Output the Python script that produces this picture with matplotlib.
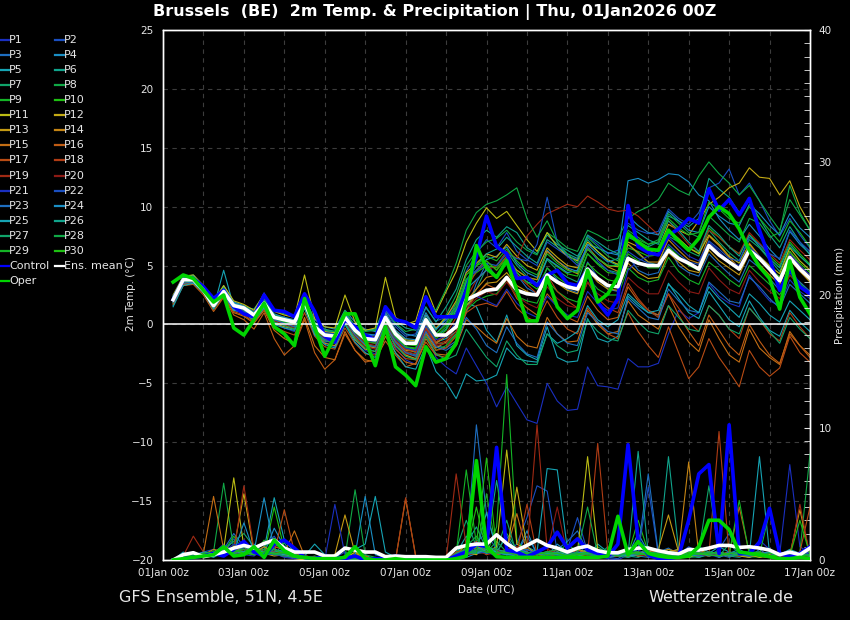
import matplotlib
matplotlib.use("Agg")
import matplotlib.pyplot as plt
from matplotlib.lines import Line2D

# forecast steps (hours after 01Jan 00z), 6-hourly
hours = list(range(6, 385, 6))

tick_hours = [0, 48, 96, 144, 192, 240, 288, 336, 384]
tick_labels = ["01Jan 00z", "03Jan 00z", "05Jan 00z", "07Jan 00z", "09Jan 00z",
               "11Jan 00z", "13Jan 00z", "15Jan 00z", "17Jan 00z"]

# 2m temperature (°C)
control_temp = [2.1, 3.8, 3.9, 3.2, 2.2, 2.9, 1.5, 0.9, 0.65, 2.5, 1.2, 1.1, 0.65, 2.6, 1.1, -1.0,
                -1.5, 0.4, -0.2, -0.9, -1.3, 1.5, 0.4, 0.2, -0.3, 2.35, 0.65, 0.65, 0.65, 2.9, 5.75, 9.2,
                6.6, 6.0, 3.9, 4.0, 3.3, 4.2, 4.6, 3.5, 3.3, 4.7, 1.9, 0.8, 2.2, 10.1, 6.6, 6.1,
                5.9, 7.6, 8.1, 9.0, 8.6, 11.5, 9.7, 10.6, 9.3, 10.7, 8.0, 5.6, 2.9, 4.7, 3.2, 2.6]
oper_temp = [3.6, 4.2, 3.9, 2.9, 1.9, 2.5, -0.3, -0.9, 0.4, 1.8, -0.2, -0.8, -1.8, 2.2, -0.2, -2.7,
             -1.0, 0.9, 0.9, -1.3, -3.5, -0.2, -3.6, -4.3, -5.2, -1.9, -3.2, -2.9, -1.6, 2.1, 6.7, 4.8,
             4.0, 5.4, 2.9, 0.3, 0.3, 4.0, 1.5, 0.5, 1.2, 4.6, 1.9, 2.6, 4.0, 7.7, 7.0, 6.4,
             6.3, 8.0, 7.1, 6.3, 7.3, 9.1, 10.0, 9.4, 8.1, 6.3, 4.9, 3.9, 1.3, 5.4, 2.3, 0.9]
mean_temp = [2.1, 3.8, 3.8, 2.9, 1.6, 2.8, 1.6, 1.4, 0.8, 1.8, 0.6, 0.4, 0.2, 1.9, -0.2, -0.9,
             -1.0, 0.6, -0.5, -1.2, -1.3, 0.6, -0.8, -1.6, -1.6, 0.4, -0.9, -0.9, -0.2, 2.1, 2.5, 2.9,
             3.0, 4.0, 2.9, 2.6, 2.5, 4.2, 3.6, 3.2, 3.0, 4.7, 3.9, 3.3, 3.2, 5.6, 5.2, 5.0,
             5.0, 6.3, 5.6, 5.2, 4.7, 6.7, 5.9, 5.3, 4.7, 6.3, 5.6, 4.7, 3.7, 5.7, 4.7, 3.9]

# P1 ... P30
temp_members = [
    [1.8, 3.5, 3.9, 3.0, 1.9, 2.6, 1.2, 1.0, 0.5, 1.5, 0.2, -0.3, -0.6, 1.4, -0.8, -1.5, -1.9, 0.2, -1.3, -2.2, -2.5, 0.0, -2.0, -3.0, -3.4, -0.5, -2.8, -3.6, -4.2, -2.0, -3.5, -5.0, -7.0, -5.3, -6.7, -8.1, -8.4, -5.0, -6.5, -7.3, -7.2, -3.6, -5.2, -5.3, -5.5, -2.9, -3.6, -3.6, -3.3, -0.8, 1.2, 0.5, 1.0, 3.5, 2.4, 1.8, 1.5, 4.2, 3.0, 2.0, 1.6, 3.8, 2.8, 2.2],
    [2.3, 3.9, 4.0, 3.1, 1.8, 3.0, 1.9, 1.5, 1.1, 2.0, 0.8, 0.5, 0.3, 2.1, 0.1, -0.6, -0.7, 0.9, -0.3, -1.0, -0.9, 1.2, -0.2, -1.0, -0.8, 1.4, 0.3, 0.6, 1.8, 4.5, 6.0, 7.2, 6.5, 7.8, 6.2, 5.5, 5.0, 7.0, 6.4, 5.8, 5.5, 7.5, 6.8, 6.0, 6.3, 8.6, 8.0, 7.7, 7.9, 9.8, 9.0, 8.5, 9.5, 11.6, 12.0, 13.2, 11.0, 12.0, 10.5, 8.8, 7.5, 9.0, 7.6, 6.5],
    [2.0, 3.6, 3.7, 2.8, 1.5, 2.9, 1.7, 1.3, 0.6, 1.9, 0.3, 0.1, -0.2, 1.6, -0.6, -1.3, -1.5, 0.5, -0.9, -1.8, -2.0, 0.2, -1.5, -2.3, -2.6, -0.3, -1.8, -2.0, -1.4, 1.0, 3.5, 5.2, 4.0, 5.5, 4.2, 3.1, 2.6, 4.8, 3.8, 3.0, 2.7, 5.3, 4.0, 3.0, 2.8, 5.8, 4.6, 4.2, 4.4, 6.6, 5.0, 4.4, 4.1, 6.0, 5.1, 4.3, 3.6, 5.5, 4.8, 3.9, 2.9, 4.4, 3.6, 2.8],
    [2.2, 3.7, 3.9, 3.1, 1.8, 3.3, 1.9, 1.6, 1.0, 2.2, 0.9, 0.6, 0.4, 2.3, 0.4, -0.2, -0.4, 1.2, 0.2, -0.4, -0.6, 1.3, 0.0, -0.8, -1.0, 1.0, -0.4, 0.5, 1.5, 3.8, 4.6, 5.5, 5.8, 6.6, 5.2, 4.4, 4.0, 6.3, 5.4, 4.8, 4.5, 6.8, 6.5, 6.1, 5.9, 12.2, 12.4, 12.0, 12.3, 12.8, 12.7, 12.1, 11.0, 10.5, 9.0, 8.0, 7.2, 8.5, 7.5, 6.4, 5.5, 7.9, 6.8, 6.0],
    [1.6, 3.4, 3.6, 2.7, 1.4, 4.6, 1.5, 1.2, 0.7, 1.7, 0.5, 0.2, 0.1, 1.9, -0.3, -1.0, -0.9, 0.4, -0.7, -1.4, -1.2, 0.9, -1.0, -1.9, -2.2, 0.1, -1.5, -1.2, -0.6, 1.8, 1.5, -0.5, -1.5, 0.8, -1.8, -2.6, -3.0, -0.2, -2.8, -3.2, -3.1, 0.5, -1.2, -1.5, -1.0, 2.4, 1.6, 1.0, 0.8, 3.5, 2.2, 1.0, 0.5, 2.8, 1.6, 0.4, -0.2, 2.0, 0.6, -0.5, -1.0, 1.2, 0.2, -0.6],
    [2.4, 4.0, 4.2, 3.2, 1.9, 3.2, 1.8, 1.5, 1.3, 2.5, 1.2, 0.9, 0.7, 2.4, 0.2, -0.4, -0.6, 1.0, -0.1, -0.5, -0.4, 1.6, 0.3, -0.3, -0.5, 1.5, 0.2, 1.5, 3.0, 5.5, 7.2, 8.0, 7.4, 8.3, 7.8, 6.5, 6.0, 7.6, 6.8, 6.3, 5.8, 7.2, 6.2, 5.4, 5.0, 7.4, 7.0, 6.6, 7.0, 9.2, 8.8, 8.3, 9.0, 12.4, 11.5, 10.8, 9.5, 10.5, 9.0, 7.6, 6.5, 8.3, 7.0, 5.9],
    [2.0, 3.8, 3.8, 2.9, 1.7, 2.7, 1.4, 1.2, 0.6, 1.6, 0.4, 0.2, 0.0, 1.7, -0.5, -1.1, -1.3, 0.8, -0.6, -1.3, -1.6, 0.3, -1.2, -2.0, -2.4, -0.2, -1.6, -1.6, -0.8, 1.5, 3.0, 4.8, 5.0, 6.2, 5.0, 4.1, 3.5, 5.5, 4.6, 4.0, 3.6, 6.0, 5.2, 4.6, 4.4, 6.8, 6.0, 5.3, 5.0, 7.5, 7.0, 6.2, 5.8, 8.0, 7.0, 6.1, 5.4, 7.2, 6.5, 5.5, 4.5, 6.6, 5.8, 5.0],
    [2.3, 4.1, 4.0, 3.1, 1.7, 3.1, 1.8, 1.4, 0.9, 2.0, 0.7, 0.5, 0.3, 2.0, -0.1, -0.8, -0.9, 0.8, -0.4, -1.1, -1.2, 0.7, -0.6, -1.4, -1.4, 0.6, -0.5, 0.8, 2.5, 5.0, 6.2, 7.0, 7.3, 8.0, 7.0, 6.3, 5.9, 7.8, 7.2, 6.5, 6.2, 8.0, 7.6, 7.1, 7.3, 9.0, 9.6, 10.0, 10.6, 12.0, 11.4, 11.0, 12.6, 13.8, 12.8, 12.0, 11.0, 11.8, 10.5, 9.2, 8.0, 10.6, 9.3, 8.0],
    [1.9, 3.6, 3.8, 3.0, 1.6, 2.6, 1.3, 1.1, 0.5, 1.6, 0.3, 0.0, -0.3, 1.5, -0.6, -1.2, -1.4, 0.3, -1.0, -1.7, -1.9, -0.1, -1.6, -2.6, -3.0, -0.8, -2.2, -1.8, -0.9, 1.2, 2.0, 2.4, 2.6, 3.8, 2.4, 2.0, 1.8, 3.7, 2.8, 2.2, 1.9, 4.0, 3.0, 2.5, 2.5, 4.8, 4.0, 3.6, 3.8, 5.7, 4.5, 3.8, 3.4, 5.3, 4.6, 3.8, 3.2, 5.0, 4.2, 3.4, 2.5, 4.2, 3.5, 2.6],
    [2.2, 3.9, 3.9, 2.9, 1.6, 2.9, 1.6, 1.4, 0.8, 1.8, 0.6, 0.3, 0.1, 1.8, -0.3, -1.0, -1.1, 0.5, -0.6, -1.3, -1.5, 0.4, -1.0, -1.9, -2.1, -0.1, -1.2, -0.5, 1.0, 3.5, 4.4, 5.0, 4.8, 5.8, 4.6, 4.0, 3.8, 5.6, 4.9, 4.3, 4.1, 6.0, 5.1, 4.4, 4.3, 6.5, 6.2, 5.8, 5.9, 8.0, 7.2, 6.5, 6.1, 8.2, 7.4, 6.6, 6.0, 7.6, 6.8, 5.8, 5.0, 7.0, 6.0, 5.1],
    [2.5, 4.1, 4.2, 3.3, 2.0, 3.3, 2.0, 1.7, 1.2, 2.6, 1.1, 0.8, 0.6, 4.2, 0.5, -0.2, -0.3, 2.5, 0.2, -0.5, -0.3, 4.0, 0.6, 0.0, 0.3, 3.2, 1.0, 2.8, 4.5, 7.0, 8.6, 9.9, 9.0, 9.6, 8.4, 7.2, 6.2, 7.8, 6.6, 5.8, 5.4, 7.0, 6.2, 5.5, 5.1, 7.6, 7.0, 6.4, 6.2, 8.0, 7.3, 6.5, 6.0, 7.6, 6.8, 5.8, 5.2, 6.8, 5.8, 5.0, 4.3, 6.5, 5.4, 4.6],
    [2.1, 3.8, 3.9, 3.0, 1.7, 3.0, 1.7, 1.5, 0.9, 2.0, 0.7, 0.4, 0.2, 2.1, 0.0, -0.6, -0.7, 0.8, -0.3, -1.0, -1.1, 1.0, -0.5, -1.3, -1.4, 0.8, -0.3, 0.6, 2.0, 4.4, 5.2, 6.0, 5.7, 6.8, 5.8, 5.0, 4.6, 6.5, 5.7, 5.0, 4.8, 6.4, 5.6, 5.0, 4.9, 7.0, 6.6, 6.1, 6.4, 8.5, 8.0, 7.6, 8.8, 10.2, 10.8, 11.6, 12.0, 13.3, 12.5, 12.4, 11.0, 12.2, 10.0, 8.5],
    [1.9, 3.5, 3.6, 2.8, 1.5, 2.7, 1.3, 1.1, 0.4, 1.5, 0.1, -0.2, -0.4, 1.4, -0.8, -1.6, -1.8, 0.1, -1.3, -2.1, -2.3, -0.2, -1.8, -2.6, -2.9, -0.7, -2.0, -1.5, -0.6, 1.6, 2.5, 3.5, 3.6, 4.4, 3.3, 2.8, 2.4, 4.2, 3.5, 2.9, 2.6, 4.6, 3.6, 3.0, 2.9, 5.2, 4.4, 3.9, 4.0, 6.1, 5.3, 4.6, 4.4, 6.3, 5.4, 4.8, 4.2, 6.1, 5.1, 4.2, 3.4, 5.5, 4.5, 3.6],
    [2.0, 3.6, 3.7, 2.8, 1.6, 2.8, 1.5, 1.2, 0.6, 1.6, 0.3, 0.0, -0.3, 1.5, -0.7, -1.4, -1.5, 0.2, -1.1, -1.8, -2.0, -0.1, -1.4, -2.2, -2.3, 0.0, -1.6, -1.0, -0.2, 2.0, 3.0, 4.0, 4.2, 5.3, 4.6, 4.0, 3.8, 6.2, 5.4, 4.7, 4.3, 6.6, 5.6, 4.9, 4.5, 6.8, 6.1, 5.3, 5.3, 7.2, 6.3, 5.5, 5.2, 7.5, 6.7, 5.7, 4.8, 6.9, 5.8, 4.7, 4.0, 6.2, 5.0, 4.0],
    [1.8, 3.3, 3.5, 2.7, 1.3, 2.4, 1.0, 0.7, 0.1, 1.2, -0.5, -1.2, -1.6, 0.6, -1.8, -2.8, -3.0, -0.6, -2.2, -3.0, -3.2, -1.0, -2.4, -3.2, -3.4, -1.2, -2.5, -2.6, -1.8, 0.4, -0.2, -1.0, -1.6, 0.5, -1.0, -1.8, -2.0, 0.6, -0.8, -1.5, -1.4, 1.2, 0.0, -0.8, -0.6, 2.0, 0.8, 0.2, -0.4, 1.6, -0.2, -1.5, -2.3, 0.4, -1.2, -2.6, -3.2, -0.4, -2.0, -2.8, -3.4, -0.6, -1.8, -2.6],
    [1.7, 3.3, 3.4, 2.5, 1.1, 2.3, 0.8, 0.4, -0.4, 1.0, -1.2, -2.6, -1.8, 0.4, -2.4, -3.8, -3.0, -0.8, -2.2, -3.2, -3.0, -1.4, -2.6, -3.6, -3.3, -1.5, -2.6, -2.8, -1.4, 1.2, 2.6, 3.4, 3.0, 3.8, 2.2, 1.4, 0.8, 2.6, 1.6, 0.6, 0.2, 2.4, 1.2, 0.4, 0.6, 3.2, 2.0, 1.2, 0.8, 2.6, 0.8, -0.6, -1.8, 0.8, -0.5, -1.8, -2.6, 0.0, -1.4, -2.6, -3.3, -0.8, -1.8, -2.8],
    [1.9, 3.4, 3.6, 2.7, 1.4, 2.5, 1.1, 0.8, 0.2, 1.3, -0.2, -0.6, -0.9, 1.0, -1.0, -1.9, -2.1, -0.3, -1.6, -2.5, -2.6, -0.6, -2.1, -2.9, -3.0, -0.9, -2.2, -2.0, -1.0, 1.0, 1.6, 1.8, 1.5, 2.8, 1.4, 0.6, 0.2, 2.0, 0.6, -0.4, -0.8, 1.4, 0.2, -0.8, -1.2, 1.0, -0.6, -1.8, -2.8, -0.2, -2.4, -4.6, -3.6, -1.2, -2.8, -4.0, -5.3, -2.2, -3.6, -4.4, -3.7, -1.0, -2.4, -3.2],
    [2.1, 3.7, 3.8, 2.9, 1.7, 2.9, 1.6, 1.3, 0.8, 1.9, 0.5, 0.2, -0.1, 1.7, -0.4, -1.1, -1.2, 0.4, -0.8, -1.5, -1.6, 0.3, -1.2, -2.1, -2.3, -0.3, -1.5, -0.8, 0.6, 3.0, 4.5, 5.4, 4.6, 5.8, 4.2, 3.4, 2.6, 4.2, 2.8, 2.0, 1.4, 3.6, 2.2, 1.4, 1.0, 3.5, 2.2, 1.2, 0.6, 2.6, 1.4, 0.2, -0.6, 1.6, 0.8, -0.4, -1.2, 1.4, 0.4, -0.8, -1.4, 1.0, -0.2, -1.2],
    [2.2, 3.8, 3.8, 2.9, 1.6, 2.8, 1.5, 1.2, 0.6, 1.8, 0.4, 0.1, -0.1, 1.7, -0.5, -1.2, -1.3, 0.4, -0.8, -1.6, -1.8, 0.1, -1.4, -2.3, -2.5, -0.4, -1.7, -1.4, -0.2, 2.2, 3.8, 4.6, 5.0, 6.2, 5.6, 7.5, 8.5, 9.4, 9.8, 10.2, 10.0, 10.9, 10.4, 9.8, 9.6, 9.7, 9.2, 8.4, 7.6, 8.8, 7.8, 6.8, 6.2, 8.0, 7.4, 6.6, 6.0, 7.8, 6.9, 6.0, 5.2, 7.2, 6.3, 5.5],
    [2.0, 3.6, 3.7, 2.8, 1.5, 2.7, 1.4, 1.1, 0.5, 1.7, 0.3, 0.0, -0.3, 1.6, -0.6, -1.3, -1.5, 0.2, -1.0, -1.9, -2.1, -0.3, -1.6, -2.5, -2.7, -0.6, -1.8, -1.6, -0.6, 1.4, 2.2, 2.8, 2.5, 3.6, 2.4, 1.8, 1.4, 3.2, 2.2, 1.6, 1.4, 3.6, 2.6, 2.0, 1.8, 4.0, 3.2, 2.6, 2.6, 4.6, 3.6, 2.8, 2.6, 4.8, 3.8, 3.0, 2.6, 4.6, 3.6, 2.8, 2.2, 4.2, 3.2, 2.4],
    [2.1, 3.7, 3.8, 2.9, 1.6, 2.8, 1.6, 1.3, 0.7, 2.7, 0.5, 0.2, 0.0, 1.8, -0.3, -1.0, -1.2, 0.5, -0.7, -1.4, -1.5, 0.4, -1.2, -2.0, -2.2, -0.1, -1.3, -1.0, 0.2, 2.0, 2.4, 2.0, 1.6, 3.0, 1.8, 1.0, 0.6, 2.4, 1.5, 0.8, 0.6, 2.8, 1.8, 1.2, 1.4, 4.6, 5.4, 5.8, 6.3, 7.4, 6.6, 5.8, 5.4, 7.0, 6.2, 5.3, 5.0, 6.6, 5.8, 4.8, 4.0, 6.0, 5.0, 4.2],
    [2.3, 3.9, 4.0, 3.0, 1.8, 3.0, 1.7, 1.5, 1.0, 2.1, 0.7, 0.4, 0.2, 2.0, 0.0, -0.7, -0.8, 0.9, -0.4, -1.1, -1.2, 0.8, -0.7, -1.5, -1.6, 0.5, -0.8, 0.2, 1.5, 3.8, 4.5, 5.2, 5.0, 6.0, 5.6, 5.4, 6.8, 10.8, 7.0, 5.8, 5.0, 6.6, 5.4, 4.6, 4.2, 6.2, 5.6, 5.2, 5.0, 6.8, 6.0, 5.3, 5.1, 7.1, 6.4, 5.6, 5.4, 7.4, 6.8, 6.0, 5.6, 8.0, 7.0, 6.2],
    [1.9, 3.5, 3.6, 2.8, 1.5, 2.7, 1.4, 1.2, 0.6, 1.7, 0.4, 0.1, -0.2, 1.6, -0.6, -1.3, -1.4, 0.4, -0.9, -1.7, -1.9, 0.0, -1.5, -2.4, -2.7, -0.6, -1.9, -2.2, -1.6, 0.6, -0.4, -1.8, -2.4, -0.2, -1.6, -2.5, -2.8, 0.2, -0.8, -1.6, -1.8, 1.0, 0.2, -0.6, -0.8, 2.2, 1.4, 0.6, 0.4, 3.0, 2.0, 1.2, 1.0, 3.6, 2.8, 2.0, 1.8, 4.0, 3.2, 2.2, 1.4, 3.4, 2.6, 1.8],
    [2.4, 4.0, 4.1, 3.1, 1.8, 3.1, 1.8, 1.5, 1.0, 2.2, 0.8, 0.6, 0.3, 2.2, 0.1, -0.5, -0.6, 1.0, -0.2, -0.8, -0.9, 1.0, -0.5, -1.2, -1.3, 0.8, -0.4, 0.4, 1.2, 3.0, 3.8, 4.6, 4.0, 5.6, 4.4, 3.6, 3.4, 5.6, 5.0, 4.4, 4.6, 6.8, 6.0, 5.3, 5.6, 9.2, 8.4, 7.8, 7.6, 9.6, 8.8, 8.0, 7.8, 10.0, 9.2, 8.6, 8.4, 10.2, 9.4, 8.4, 7.6, 9.4, 8.2, 7.4],
    [1.5, 3.3, 3.5, 2.7, 1.3, 2.6, 1.2, 1.0, 0.3, 1.4, 0.0, -0.3, -0.5, 1.4, -0.9, -1.7, -2.0, 0.0, -1.5, -2.4, -2.8, -0.6, -2.4, -3.6, -3.8, -1.8, -4.0, -4.9, -6.3, -4.2, -4.8, -4.7, -4.3, -2.0, -2.9, -3.1, -3.2, -0.8, -1.6, -1.2, -0.6, 1.6, 0.4, -0.2, 0.4, 2.6, 1.8, 1.0, 1.2, 3.4, 2.6, 1.6, 1.0, 3.2, 2.2, 1.4, 0.6, 2.6, 1.8, 0.8, 0.2, 2.0, 1.2, 0.4],
    [2.2, 3.8, 3.9, 3.0, 1.7, 2.9, 1.6, 1.4, 0.8, 1.9, 0.6, 0.3, 0.1, 1.8, -0.2, -0.8, -1.0, 0.6, -0.5, -1.2, -1.3, 0.5, -0.8, -1.6, -1.8, 0.2, -1.0, -0.4, 1.2, 3.6, 5.0, 6.0, 6.4, 7.4, 6.6, 5.8, 5.2, 7.2, 6.6, 6.0, 5.6, 7.6, 7.0, 6.4, 6.0, 8.4, 7.8, 7.2, 6.8, 8.8, 8.0, 7.0, 6.2, 8.4, 7.6, 6.6, 5.8, 7.6, 6.6, 5.6, 4.8, 6.8, 5.8, 5.0],
    [1.9, 3.6, 3.7, 2.8, 1.5, 2.7, 1.4, 1.1, 0.5, 1.6, 0.2, -0.1, -0.4, 1.5, -0.7, -1.4, -1.6, 0.1, -1.2, -2.0, -2.3, -0.3, -1.8, -2.7, -3.0, -1.0, -2.5, -3.0, -2.6, -0.4, -1.6, -2.8, -3.6, -1.4, -2.6, -3.4, -3.4, -0.8, -1.8, -2.4, -2.2, 0.4, -0.6, -1.2, -1.4, 1.2, 0.2, -0.6, -0.8, 1.6, 0.6, -0.4, -0.6, 1.6, 0.8, -0.4, -0.8, 1.4, 0.4, -0.6, -1.6, 0.6, -0.4, -1.2],
    [2.3, 4.0, 4.0, 3.1, 1.8, 3.1, 1.7, 1.5, 1.0, 2.2, 0.8, 0.5, 0.3, 2.2, 0.0, -0.5, -0.6, 1.2, -0.2, -0.6, -0.5, 1.4, 0.1, -0.6, -0.4, 2.0, 1.2, 3.0, 5.2, 8.0, 9.5, 10.2, 10.5, 11.0, 11.6, 9.0, 7.4, 8.8, 7.0, 6.0, 5.2, 7.4, 6.6, 5.8, 5.4, 8.0, 7.4, 6.8, 7.2, 9.4, 8.6, 7.8, 7.4, 9.2, 8.4, 7.6, 7.0, 9.0, 8.6, 7.4, 7.8, 11.8, 9.5, 8.0],
    [2.0, 3.7, 3.8, 2.9, 1.6, 2.8, 1.5, 1.3, 0.7, 1.8, 0.5, 0.2, 0.0, 1.7, -0.4, -1.1, -1.2, 0.5, -0.7, -1.4, -1.6, 0.3, -1.1, -1.9, -2.0, 0.2, -1.0, -0.2, 1.4, 3.8, 5.0, 5.8, 5.4, 6.4, 5.4, 4.6, 4.2, 6.0, 5.2, 4.6, 4.4, 6.4, 5.6, 5.0, 5.0, 7.6, 7.2, 6.8, 7.0, 9.0, 8.2, 7.6, 7.8, 10.4, 9.8, 9.0, 8.6, 10.0, 9.0, 8.0, 7.0, 8.8, 7.8, 6.6],
    [2.1, 3.8, 3.9, 3.0, 1.7, 3.0, 1.6, 1.4, 0.8, 1.9, 0.6, 0.3, 0.1, 1.9, -0.2, -0.9, -1.0, 0.7, -0.5, -1.2, -1.4, 0.6, -0.9, -1.7, -1.8, 0.4, -0.8, 0.0, 1.8, 4.2, 5.0, 5.4, 4.6, 5.6, 4.4, 3.6, 3.0, 4.8, 4.0, 3.4, 3.2, 5.2, 4.4, 3.8, 3.6, 6.0, 5.4, 4.8, 4.8, 6.6, 5.8, 5.0, 4.6, 6.8, 6.0, 5.2, 4.8, 6.4, 5.6, 4.8, 4.0, 6.2, 5.2, 4.4],
]

# 6-hourly precipitation (mm)
control_prec = [0, 0.1, 0.2, 0.3, 0.5, 0.3, 0.8, 1.4, 0.6, 0.3, 1.2, 1.5, 0.9, 0.2, 0.1, 0.3,
                0.2, 0.1, 0.3, 0.0, 0.1, 0.1, 0.3, 0.2, 0.2, 0.1, 0.1, 0.0, 0.3, 0.6, 1.2, 1.0,
                8.5, 0.75, 0.6, 0.25, 0.6, 1.0, 2.1, 0.9, 1.6, 0.75, 0.5, 0.25, 1.2, 8.7, 1.5, 0.4,
                0.1, 0.1, 0.25, 3.0, 6.5, 7.2, 0.5, 10.2, 0.5, 0.5, 1.3, 3.9, 0.5, 0.25, 0.5, 1.0]
oper_prec = [0, 0.1, 0.2, 0.3, 0.4, 1.0, 0.3, 0.4, 1.0, 0.2, 1.5, 0.7, 0.3, 0.2, 0.1, 0.1,
             0.1, 0.2, 1.0, 0.1, 0.0, 0.0, 0.1, 0.0, 0.0, 0.0, 0.0, 0.0, 0.1, 0.3, 7.5, 1.0,
             0.25, 0.2, 0.2, 0.2, 0.2, 0.2, 0.2, 0.2, 0.2, 0.2, 0.2, 0.3, 3.3, 0.4, 1.4, 0.5,
             0.3, 0.2, 0.2, 0.3, 1.0, 3.0, 3.0, 2.3, 0.6, 0.5, 0.4, 0.25, 0.1, 0.1, 0.2, 0.1]
mean_prec = [0, 0.4, 0.55, 0.25, 0.4, 0.6, 0.9, 1.1, 0.9, 1.25, 1.5, 0.9, 0.6, 0.6, 0.6, 0.3,
             0.3, 0.9, 0.75, 0.6, 0.6, 0.25, 0.3, 0.25, 0.25, 0.25, 0.2, 0.2, 0.9, 1.1, 1.2, 1.2,
             1.9, 1.25, 0.75, 1.1, 1.5, 1.1, 0.9, 0.6, 0.9, 1.05, 0.7, 0.55, 0.55, 0.8, 0.9, 0.9,
             0.7, 0.55, 0.45, 0.8, 0.75, 0.9, 1.1, 1.1, 0.95, 1.0, 0.9, 0.75, 0.4, 0.6, 0.4, 0.9]

# P1 ... P30
prec_members = [
    [0, 0.1, 0.3, 0.2, 0.5, 1.2, 0.6, 0.4, 0.3, 0.8, 0.5, 0.2, 0.1, 0, 0.2, 0, 0, 0.1, 0.3, 0.1, 0, 0, 0, 0.2, 0, 0, 0, 0, 0.2, 0.5, 1.0, 0.6, 0.3, 0.8, 0.4, 0.2, 0.6, 0.3, 0.1, 0, 0.2, 0.5, 0.3, 0.1, 0, 0.4, 0.8, 0.2, 0.1, 0.3, 0.5, 0.2, 0.8, 0.4, 0.2, 0.5, 0.3, 0.6, 1.5, 0.8, 0.4, 7.2, 1.0, 0.5],
    [0, 0.2, 0.4, 0.6, 0.8, 0.5, 1.6, 0.8, 0.4, 1.0, 1.8, 0.6, 0.2, 0.1, 0, 0.1, 0.2, 0.6, 0.2, 0, 0, 0.1, 0, 0, 0, 0, 0, 0.1, 0.3, 0.8, 1.4, 2.0, 0.8, 0.5, 1.2, 3.2, 5.6, 5.2, 0.6, 0.3, 0.4, 1.2, 0.5, 0.2, 0.1, 0.6, 1.4, 0.8, 0.5, 0.2, 0.4, 1.0, 0.6, 0.3, 0.8, 2.0, 0.4, 0.2, 0.5, 0.3, 0.2, 0.4, 0.2, 0.6],
    [0, 0.3, 0.2, 0.5, 0.3, 0.8, 2.0, 1.0, 0.6, 0.4, 1.2, 0.8, 0.3, 0.2, 0.1, 0, 0.1, 0.3, 0.2, 0, 0.1, 0, 0, 0.3, 0.1, 0, 0, 0, 0.2, 0.6, 10.2, 3.5, 0.8, 0.4, 0.6, 1.8, 0.5, 0.3, 0.8, 1.4, 2.2, 0.6, 0.3, 0.2, 0.4, 0.8, 0.3, 0.2, 0.6, 0.9, 0.4, 0.2, 0.3, 0.6, 0.4, 0.2, 0.5, 0.2, 0.8, 0.3, 0.2, 0.6, 0.3, 0.4],
    [0, 0.4, 0.6, 0.3, 0.5, 0.4, 1.0, 0.6, 1.2, 0.5, 2.4, 1.0, 0.4, 0.2, 0, 0, 0.2, 0.1, 0, 0.4, 0, 0, 0.1, 0, 0, 0, 0, 0, 0, 0.2, 0.5, 1.0, 0.6, 1.8, 0.5, 2.2, 0.4, 0.3, 1.2, 0.6, 0.8, 0.3, 0.5, 0.2, 0.3, 0.4, 2.0, 0.6, 0.2, 0.5, 0.3, 0.4, 1.0, 0.6, 0.2, 0.5, 0.8, 0.4, 0.3, 0.2, 0.3, 0.2, 0.4, 0.3],
    [0, 0.6, 0.3, 0.4, 0.2, 0.6, 0.8, 1.2, 0.5, 0.8, 4.7, 1.5, 0.6, 0.3, 1.2, 0.4, 0.3, 0.2, 0.8, 1.2, 4.8, 0.6, 0.2, 0.1, 0, 0, 0, 0, 0.5, 1.8, 0.6, 3.6, 0.8, 0.4, 0.3, 1.0, 0.6, 6.9, 6.8, 0.8, 0.4, 0.3, 1.2, 0.6, 0.5, 0.2, 0.4, 1.0, 0.3, 0.6, 0.8, 0.4, 0.2, 0.5, 1.0, 0.6, 0.4, 0.3, 0.6, 0.2, 0.4, 0.8, 0.5, 0.3],
    [0, 0.2, 0.5, 0.3, 0.4, 1.0, 0.6, 0.8, 0.5, 0.6, 0.4, 1.3, 0.2, 0.1, 0, 0.2, 0, 0.3, 0.1, 0, 0.2, 0, 0, 0, 0, 0, 0, 0, 0.6, 1.2, 2.5, 0.8, 6.0, 1.2, 0.5, 0.3, 0.4, 0.6, 0.2, 0.3, 0.5, 0.8, 0.4, 0.2, 0.6, 0.3, 0.2, 0.5, 0.4, 7.8, 0.8, 0.3, 0.2, 0.4, 0.6, 0.3, 0.2, 0.5, 0.3, 0.2, 0.1, 0.3, 0.2, 0.1],
    [0, 0.1, 0.2, 0.4, 0.6, 0.8, 1.4, 2.0, 1.0, 0.5, 0.8, 0.4, 0.2, 0, 0.1, 0, 0.3, 0.1, 0.4, 0, 0, 0.2, 0, 0, 0, 0, 0, 0.1, 0.8, 3.0, 1.0, 0.6, 0.5, 2.0, 0.8, 0.3, 0.2, 0.6, 0.4, 0.3, 0.8, 0.5, 0.3, 1.0, 0.3, 0.2, 0.6, 0.4, 0.8, 0.3, 0.5, 0.2, 0.6, 0.4, 0.3, 1.2, 0.5, 0.6, 0.6, 0.3, 0.2, 0.5, 0.4, 0.2],
    [0, 0.3, 0.4, 0.5, 0.6, 5.8, 0.8, 1.2, 0.6, 1.0, 0.5, 0.3, 0.2, 0.1, 0.3, 0, 0, 0.2, 5.3, 0.4, 0.2, 0.1, 0, 0, 0, 0, 0, 0, 0.3, 1.0, 1.8, 0.6, 1.4, 0.6, 0.8, 0.4, 0.6, 0.4, 0.3, 0.8, 0.4, 0.6, 1.0, 0.5, 0.3, 0.8, 0.6, 0.4, 0.5, 0.3, 0.6, 0.8, 0.4, 0.5, 0.3, 0.6, 0.4, 0.2, 0.3, 0.5, 0.3, 0.2, 0.6, 8.0],
    [0, 0.2, 0.3, 0.2, 0.5, 0.6, 1.8, 0.6, 0.4, 1.5, 0.8, 0.6, 0.3, 0.1, 0, 0, 0.2, 0, 0.4, 0.2, 0.1, 0, 0, 0, 0, 0, 0, 0, 0.5, 6.8, 1.2, 0.4, 2.5, 14.0, 1.5, 0.5, 0.3, 0.4, 0.6, 1.2, 0.6, 0.3, 0.5, 0.4, 0.3, 0.6, 0.4, 0.3, 0.5, 0.8, 0.4, 0.2, 0.3, 0.6, 0.5, 0.4, 0.6, 0.3, 0.2, 0.4, 0.2, 0.5, 0.3, 0.2],
    [0, 0.3, 0.2, 0.6, 0.4, 0.8, 0.6, 1.0, 0.8, 0.4, 4.0, 0.8, 0.4, 0.2, 0.1, 0, 0.3, 0.2, 0.6, 0.1, 0, 0, 0.1, 0, 0, 0, 0, 0, 0.2, 0.4, 1.2, 7.7, 0.8, 0.5, 0.6, 0.4, 0.3, 0.5, 0.8, 0.4, 0.6, 0.3, 0.4, 0.8, 0.5, 0.4, 3.0, 0.6, 0.3, 0.5, 0.4, 0.6, 0.8, 0.5, 0.3, 0.4, 0.6, 0.4, 0.3, 0.2, 0.3, 0.2, 0.4, 0.3],
    [0, 0.1, 0.2, 0.3, 0.6, 0.8, 6.2, 1.0, 0.5, 0.6, 0.4, 0.3, 0.2, 0, 0, 0, 0, 0.3, 0.2, 0, 0, 0, 0, 0, 0, 0, 0, 0, 0.4, 1.2, 0.8, 0.6, 1.0, 8.3, 1.2, 0.8, 0.5, 0.6, 0.4, 0.3, 0.6, 7.8, 0.8, 0.4, 0.3, 0.4, 0.5, 0.3, 0.6, 0.4, 0.3, 0.2, 0.5, 0.3, 0.6, 0.4, 0.3, 0.4, 0.2, 0.3, 0.2, 0.3, 0.4, 0.2],
    [0, 0.2, 0.4, 0.3, 0.5, 0.6, 0.8, 5.0, 0.6, 0.8, 0.5, 0.4, 0.1, 0, 0.2, 0, 0, 0.1, 0.6, 0.3, 0, 0.2, 0, 0, 0, 0, 0, 0, 0.2, 0.6, 0.4, 1.0, 0.6, 0.5, 5.5, 1.0, 0.4, 0.6, 0.3, 0.5, 0.8, 0.6, 0.4, 0.3, 0.5, 0.3, 0.6, 0.4, 0.3, 0.6, 0.8, 0.4, 0.5, 0.3, 0.6, 0.4, 0.3, 0.2, 0.5, 0.4, 0.3, 0.5, 0.2, 0.3],
    [0, 0.4, 0.3, 0.5, 0.6, 1.0, 0.8, 0.4, 0.6, 0.5, 0.3, 0.4, 0.2, 0.1, 0, 0.2, 0.4, 3.4, 0.5, 0.2, 0, 0, 0.1, 0, 0, 0, 0, 0, 0.3, 0.8, 0.5, 1.2, 0.4, 0.6, 0.8, 0.5, 0.6, 0.3, 0.4, 0.8, 0.5, 0.4, 0.6, 0.3, 0.4, 0.5, 0.3, 0.6, 0.8, 3.4, 0.6, 0.4, 0.3, 0.5, 0.4, 0.6, 0.4, 0.3, 0.5, 0.2, 0.3, 0.4, 3.8, 0.3],
    [0, 0.3, 0.5, 0.4, 0.8, 0.6, 1.0, 0.8, 0.5, 1.0, 0.6, 0.4, 0.3, 0.2, 0.1, 0, 0, 0.1, 0.3, 0.2, 0, 0, 0, 4.6, 0.3, 0, 0, 0, 0.2, 0.5, 0.6, 1.0, 0.4, 0.8, 0.6, 0.4, 0.3, 0.5, 0.3, 0.6, 0.4, 0.3, 0.6, 0.4, 0.5, 0.6, 0.3, 0.4, 0.6, 0.8, 0.6, 7.4, 0.4, 0.5, 0.3, 0.6, 0.5, 0.4, 0.3, 0.5, 0.3, 0.2, 0.4, 0.3],
    [0, 0.2, 0.3, 0.5, 4.8, 0.8, 0.6, 1.0, 0.4, 0.6, 0.8, 0.5, 2.2, 0.3, 0.2, 0, 0.3, 0.2, 0.4, 0.1, 0, 0, 0, 0, 0, 0, 0, 0, 0.4, 0.6, 1.0, 0.8, 0.5, 0.8, 3.5, 0.6, 0.4, 0.5, 0.6, 0.3, 0.8, 0.4, 0.3, 0.5, 0.6, 0.4, 0.5, 0.3, 0.4, 0.6, 0.3, 0.5, 0.8, 0.4, 0.6, 0.3, 0.5, 0.4, 0.3, 0.2, 0.3, 0.5, 0.2, 0.3],
    [0, 0.1, 0.3, 0.4, 0.6, 0.5, 0.8, 0.6, 0.4, 0.6, 1.0, 0.8, 0.5, 0.3, 0.2, 0.1, 0, 0.2, 0.1, 0.3, 0, 0, 0, 0, 0, 0, 0, 0, 0.2, 0.4, 0.5, 0.6, 0.8, 0.5, 0.4, 0.6, 0.3, 0.5, 0.8, 0.4, 0.6, 0.3, 0.5, 0.4, 0.3, 0.6, 0.4, 0.8, 0.5, 0.3, 0.4, 0.6, 0.4, 0.3, 0.5, 0.4, 4.0, 0.5, 0.3, 0.2, 0.4, 0.3, 0.5, 0.3],
    [0, 0.3, 0.4, 0.3, 0.5, 0.8, 0.6, 0.5, 0.8, 0.6, 0.5, 3.8, 0.6, 0.3, 0.2, 0, 0.2, 0.1, 0, 0.2, 0, 0, 0, 0, 0, 0, 0, 0, 0.6, 0.8, 1.4, 0.6, 0.4, 0.6, 0.8, 0.5, 0.6, 0.4, 0.3, 0.8, 0.5, 0.6, 0.4, 0.3, 0.4, 0.3, 0.6, 0.5, 0.3, 0.5, 0.4, 0.8, 0.5, 0.6, 0.4, 0.3, 0.4, 0.3, 0.6, 0.5, 0.3, 0.4, 0.6, 4.0],
    [0, 0.2, 0.5, 0.4, 0.6, 0.4, 0.8, 0.6, 0.5, 0.8, 0.6, 0.4, 0.3, 0.2, 0.1, 0, 0, 0.2, 0.3, 0.1, 0, 0.1, 0, 4.7, 0.2, 0, 0, 0, 0.3, 0.5, 0.8, 0.4, 0.6, 0.8, 0.5, 4.2, 0.4, 0.6, 0.5, 0.3, 0.6, 0.4, 8.8, 0.6, 0.5, 0.3, 0.4, 0.6, 0.4, 0.5, 0.6, 0.3, 0.5, 0.4, 9.7, 0.4, 0.6, 0.3, 0.4, 0.5, 0.3, 0.4, 0.2, 0.3],
    [0, 0.3, 1.8, 0.6, 0.4, 0.5, 0.6, 5.6, 0.8, 0.4, 0.6, 0.5, 0.3, 0.2, 0, 0.1, 0, 0.2, 0.1, 0, 0, 0, 0, 0, 0, 0, 0, 0, 6.5, 1.0, 0.8, 0.6, 0.5, 0.8, 1.0, 0.6, 10.2, 0.8, 0.5, 0.4, 0.6, 0.5, 0.4, 0.6, 0.3, 0.5, 0.4, 0.3, 0.5, 0.4, 0.6, 0.3, 0.4, 0.5, 0.3, 0.6, 0.3, 0.5, 0.4, 0.2, 0.3, 0.2, 4.2, 0.3],
    [0, 0.1, 0.3, 0.2, 0.5, 0.6, 0.4, 0.8, 0.5, 0.4, 0.6, 0.3, 0.2, 0.1, 0, 0, 0.1, 0, 0.2, 0, 0, 0, 0, 0, 0, 0, 0, 0, 0.2, 0.4, 0.6, 0.5, 0.8, 0.4, 0.6, 0.5, 0.3, 0.6, 4.0, 0.4, 0.5, 0.3, 0.6, 0.4, 0.3, 0.5, 0.4, 0.3, 0.6, 0.4, 0.3, 0.5, 0.4, 0.3, 0.5, 0.4, 0.3, 0.6, 0.4, 0.3, 0.2, 0.3, 0.4, 0.2],
    [0, 0.2, 0.3, 0.5, 0.4, 0.6, 1.2, 0.8, 0.5, 0.6, 0.4, 0.3, 0.1, 0.2, 0, 0, 4.2, 0.4, 0.2, 0.1, 0, 0, 0, 0, 0, 0, 0, 0, 0.3, 0.6, 0.8, 0.5, 0.6, 0.4, 0.5, 0.8, 0.4, 0.6, 0.3, 0.5, 0.6, 0.4, 0.5, 0.3, 0.4, 0.6, 0.5, 0.4, 0.3, 0.5, 0.4, 0.6, 0.5, 0.4, 0.3, 0.5, 0.4, 0.6, 0.3, 0.5, 0.3, 0.4, 0.2, 0.5],
    [0, 0.3, 0.4, 0.3, 0.6, 0.5, 0.8, 1.0, 0.6, 0.5, 0.4, 0.6, 0.2, 0.1, 0, 0, 0, 0.2, 0.1, 0, 0, 0, 0, 0, 0, 0, 0, 0, 0.4, 0.8, 0.5, 0.6, 0.5, 0.6, 0.8, 0.4, 0.6, 0.3, 0.5, 0.8, 3.2, 0.6, 0.5, 0.3, 0.6, 0.4, 0.5, 5.5, 0.4, 0.6, 0.5, 0.4, 0.3, 0.5, 0.6, 0.4, 0.5, 0.3, 0.4, 0.6, 0.4, 0.3, 0.5, 0.6],
    [0, 0.2, 0.5, 0.4, 0.3, 0.6, 0.8, 0.6, 0.5, 0.4, 0.8, 0.6, 0.3, 0.2, 0.1, 0, 0.2, 0.1, 0, 0, 0, 0, 0, 0, 0, 0, 0, 0, 0.3, 0.4, 0.6, 0.8, 0.5, 0.4, 0.6, 0.8, 0.5, 0.6, 0.4, 0.3, 0.6, 0.4, 0.3, 0.5, 0.4, 0.6, 0.8, 6.5, 0.5, 0.4, 0.6, 0.3, 0.5, 0.4, 0.3, 0.6, 0.4, 0.5, 0.6, 0.3, 0.5, 0.3, 0.4, 0.3],
    [0, 0.4, 0.3, 0.6, 0.5, 0.8, 0.6, 2.8, 0.6, 4.7, 0.8, 0.5, 0.4, 0.2, 0.1, 0, 0.3, 0.2, 0.4, 4.8, 0.4, 0.2, 0, 0, 0, 0, 0, 0, 0.2, 0.5, 0.8, 1.0, 0.6, 0.5, 0.8, 0.6, 0.4, 0.6, 0.5, 0.3, 0.5, 0.6, 0.4, 0.3, 0.6, 0.4, 0.5, 0.6, 0.4, 0.6, 0.5, 0.3, 0.4, 0.5, 0.6, 0.3, 0.4, 0.3, 0.5, 0.6, 0.3, 0.5, 0.4, 0.3],
    [0, 0.5, 0.4, 0.3, 0.6, 0.8, 0.5, 0.6, 0.8, 0.6, 0.5, 0.4, 0.3, 0.2, 0.1, 0, 0.1, 0, 0.2, 0, 0, 0, 0, 0, 0, 0, 0, 0, 0.3, 0.6, 0.5, 0.8, 0.6, 0.4, 0.5, 0.6, 0.4, 0.5, 0.6, 0.4, 0.3, 0.5, 0.6, 0.4, 0.5, 0.3, 0.4, 0.6, 0.5, 0.4, 0.3, 0.6, 0.4, 0.6, 0.5, 0.3, 0.5, 0.4, 7.8, 0.5, 0.4, 0.3, 0.5, 0.4],
    [0, 0.2, 0.4, 0.5, 0.6, 0.5, 0.8, 0.6, 0.4, 0.5, 0.6, 0.8, 0.3, 0.2, 0, 0.1, 0, 0.1, 0.3, 0.2, 0, 0, 0, 0, 0, 0, 0, 0, 0.4, 0.6, 1.0, 0.5, 0.8, 0.6, 0.5, 0.4, 0.6, 0.5, 0.4, 0.3, 0.5, 0.6, 0.4, 0.5, 0.3, 0.4, 8.2, 0.5, 0.4, 0.5, 0.3, 0.6, 0.5, 0.3, 0.4, 0.5, 0.6, 0.4, 0.5, 0.3, 0.4, 0.6, 0.3, 0.4],
    [0, 0.3, 0.5, 0.4, 0.6, 0.8, 0.5, 1.0, 0.6, 0.4, 0.5, 0.3, 0.2, 0.1, 0, 0, 0.1, 0.2, 0, 0.1, 0, 0, 0, 0, 0, 0, 0, 0, 0.5, 0.8, 0.6, 1.0, 0.8, 3.0, 0.4, 0.5, 0.6, 0.4, 0.5, 0.6, 0.4, 0.5, 0.3, 0.6, 0.5, 0.4, 0.6, 0.3, 0.4, 0.6, 0.5, 0.4, 0.6, 5.6, 0.5, 0.3, 0.4, 0.5, 0.3, 0.6, 0.4, 0.3, 0.5, 0.3],
    [0, 0.2, 0.3, 0.5, 0.4, 0.6, 0.8, 0.5, 0.6, 0.8, 0.4, 0.5, 0.3, 0.2, 0.1, 0, 0.2, 0, 0.1, 0, 0, 0, 0, 0, 0, 0, 0, 0, 0.3, 0.5, 0.8, 0.6, 0.5, 0.8, 0.6, 0.4, 0.5, 0.6, 0.8, 0.4, 0.6, 4.0, 0.4, 0.6, 0.5, 0.6, 0.4, 0.5, 0.6, 0.4, 0.5, 0.3, 0.5, 0.6, 0.4, 0.5, 0.6, 0.5, 0.4, 3.6, 0.5, 0.4, 0.3, 0.4],
    [0, 0.4, 0.3, 0.5, 0.6, 0.5, 0.6, 0.8, 0.5, 0.6, 0.8, 0.5, 0.3, 0.1, 0, 0, 0.1, 0.2, 0.1, 0, 0, 0, 0, 0, 0, 0, 0, 0, 0.4, 0.6, 0.5, 5.0, 0.6, 0.5, 0.8, 0.5, 0.4, 0.6, 0.5, 0.3, 0.5, 0.4, 0.6, 0.5, 0.3, 0.6, 0.5, 0.4, 0.5, 0.3, 0.6, 0.5, 0.4, 0.5, 0.6, 0.4, 4.5, 0.4, 0.3, 0.5, 0.4, 0.5, 0.3, 0.4],
    [0, 0.3, 0.4, 0.3, 0.5, 0.6, 0.8, 0.5, 0.4, 0.6, 0.5, 0.6, 0.2, 0.1, 0, 0, 0.1, 0, 0.2, 0.1, 0, 0, 0, 0, 0, 0, 0, 0, 0.3, 0.5, 4.0, 0.6, 0.5, 0.6, 0.4, 0.5, 0.6, 0.4, 0.5, 0.3, 0.4, 0.6, 0.5, 0.4, 3.2, 0.4, 0.6, 0.3, 0.4, 0.5, 0.3, 0.6, 0.5, 0.4, 0.3, 0.5, 0.4, 0.5, 0.6, 0.3, 0.4, 0.3, 3.0, 0.4],
]

member_names = ["P%d" % n for n in range(1, 31)]
palette = ["#1a2fc0", "#1a4fc0", "#1e6ec0", "#1a8ec4", "#16a4b4", "#10a48c", "#10a46a", "#10a846",
           "#14b426", "#1ec012", "#bcbc14", "#c4aa14", "#c49a14", "#c48414", "#c46e14", "#c05c14",
           "#b84c14", "#b03c14", "#a02a14", "#8c1a14"]
member_colors = [palette[k % 20] for k in range(30)]

fg = "#e6e6e6"
fig = plt.figure(figsize=(8.5, 6.2), dpi=100, facecolor="black")
ax = fig.add_axes([163 / 850, 60 / 620, 647 / 850, 530 / 620])
ax.set_facecolor("black")
ax2 = ax.twinx()

for k in range(30):
    ax.plot(hours, temp_members[k], color=member_colors[k], lw=0.8, zorder=2)
    ax2.plot(hours, prec_members[k], color=member_colors[k], lw=0.8, zorder=2)

ax.plot(hours, control_temp, color="#0000ff", lw=2.6, zorder=4)
ax.plot(hours, mean_temp, color="white", lw=2.6, zorder=5)
ax.plot(hours, oper_temp, color="#00d400", lw=2.6, zorder=6)
ax2.plot(hours, control_prec, color="#0000ff", lw=2.6, zorder=4)
ax2.plot(hours, mean_prec, color="white", lw=2.6, zorder=5)
ax2.plot(hours, oper_prec, color="#00d400", lw=2.6, zorder=6)

ax.axhline(0, color="white", lw=1.1, zorder=3)

ax.set_xlim(0, 384)
ax.set_ylim(-20, 25)
ax2.set_ylim(0, 40)

ax.set_xticks(range(0, 385, 24))
ax.set_xticklabels([tick_labels[tick_hours.index(h)] if h in tick_hours else "" for h in range(0, 385, 24)])
ax.set_yticks(range(-20, 26, 5))
ax.grid(True, color="#3c3c3c", lw=0.8, linestyle=(0, (4, 4)), zorder=0)
ax.tick_params(axis="x", length=0, pad=6, labelsize=7.5, labelcolor=fg)
ax.tick_params(axis="y", length=0, pad=7, labelsize=7.5, labelcolor=fg)

ax2.set_yticks(range(0, 41, 10))
ax2.set_yticks(range(0, 41, 1), minor=True)
ax2.tick_params(axis="y", which="both", direction="in", length=4, color=fg,
                pad=6, labelsize=7.5, labelcolor=fg)

for a in (ax, ax2):
    for s in a.spines.values():
        s.set_color("white")
        s.set_linewidth(1)

fig.text(435 / 850, 1 - 12 / 620, "Brussels  (BE)  2m Temp. & Precipitation | Thu, 01Jan2026 00Z",
         color="white", fontsize=11.5, fontweight="bold", ha="center", va="center")
fig.text(131 / 850, 1 - 294 / 620, "2m Temp. (°C)", color=fg, fontsize=7.5, rotation=90,
         ha="center", va="center")
fig.text(840 / 850, 1 - 295 / 620, "Precipitation (mm)", color=fg, fontsize=7.5, rotation=90,
         ha="center", va="center")
fig.text(486 / 850, 1 - 589 / 620, "Date (UTC)", color=fg, fontsize=7.5, ha="center", va="center")
fig.text(221 / 850, 1 - 598 / 620, "GFS Ensemble, 51N, 4.5E", color=fg, fontsize=11.5,
         ha="center", va="center")
fig.text(721 / 850, 1 - 598 / 620, "Wetterzentrale.de", color=fg, fontsize=11.5,
         ha="center", va="center")

# legend, two columns on the left
entries = [(member_names[k], member_colors[k]) for k in range(30)]
entries += [("Control", "#0000ff"), ("Ens. mean", "white"), ("Oper", "#00d400")]
for n, (name, col) in enumerate(entries):
    row, c = divmod(n, 2)
    y = 1 - (40 + row * 15.06) / 620
    x0 = 0 if c == 0 else 55
    fig.add_artist(Line2D([x0 / 850, (x0 + 9) / 850], [y, y], color=col, lw=1.6,
                          transform=fig.transFigure))
    fig.text((x0 + 9) / 850, y, name, color=fg, fontsize=8, ha="left", va="center")

fig.savefig("out.png", dpi=100, facecolor="black")
